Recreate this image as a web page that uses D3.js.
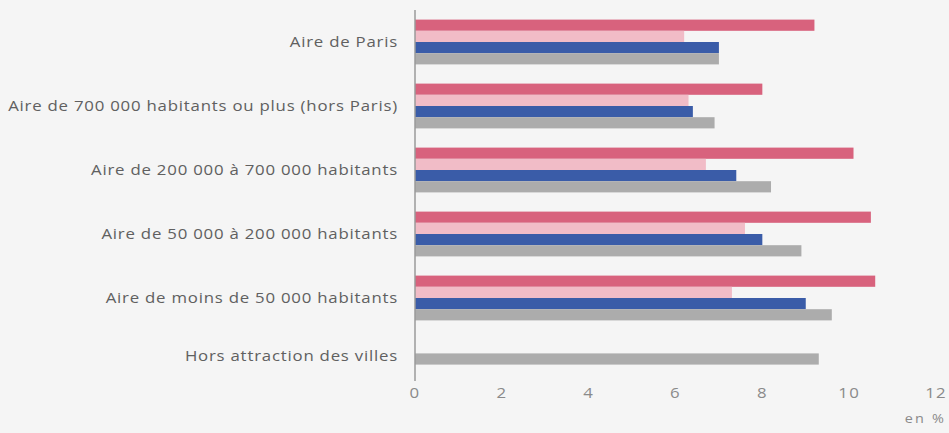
<!DOCTYPE html>
<html>
<head>
	<meta charset="utf-8">
	<style>
		body { margin: 0; background: #f5f5f5; }
	</style>
</head>
<body>
<div id="chartContainer"></div>
<script src="https://d3js.org/d3.v7.min.js"></script>
<script type="text/javascript">

// Categories (top to bottom) and values, in %
var categories = [
	"Aire de Paris",
	"Aire de 700 000 habitants ou plus (hors Paris)",
	"Aire de 200 000 à 700 000 habitants",
	"Aire de 50 000 à 200 000 habitants",
	"Aire de moins de 50 000 habitants",
	"Hors attraction des villes"
];
var seriesKeys = ["s1", "s2", "s3", "s4"];
var s1 = [9.2, 8.0, 10.1, 10.5, 10.6, null];
var s2 = [6.2, 6.3, 6.7, 7.6, 7.3, null];
var s3 = [7.0, 6.4, 7.4, 8.0, 9.0, null];
var s4 = [7.0, 6.9, 8.2, 8.9, 9.6, 9.3];
var xTicks = [0, 2, 4, 6, 8, 10, 12];
var unitLabel = "en %";

var colors = { s1: "#d8627d", s2: "#f1bcc7", s3: "#3a5ca8", s4: "#acacac" };
var seriesValues = { s1: s1, s2: s2, s3: s3, s4: s4 };

// Size and margins
var width = 949, height = 433;
var margin = {top: 10, right: 13, bottom: 39, left: 415};
var stretch = 1.2; // text in the original is drawn a bit wide

var svg = d3.select("#chartContainer").append("svg")
	.attr("width", width).attr("height", height);

svg.append("rect").attr("width", width).attr("height", height).attr("fill", "#f5f5f5");

// Scales
var x = d3.scaleLinear().domain([0, 12]).range([margin.left, 936]);
var y0 = d3.scaleBand().domain(categories).range([margin.top, 394])
	.paddingInner(0.3).paddingOuter(0.15);

// Bars: inner band built from the series that exist in each category
categories.forEach(function (cat, i) {
	var present = seriesKeys.filter(function (k) { return seriesValues[k][i] != null; });
	var inner = d3.scaleBand().domain(seriesKeys).range([0, y0.bandwidth()]);
	var h = inner.bandwidth();
	var offset = (y0.bandwidth() - h * present.length) / 2;
	if (present.length === 1) offset -= 3; // lone bar sits a little higher
	var g = svg.append("g").attr("transform", "translate(0," + y0(cat) + ")");
	g.selectAll("rect")
		.data(present)
		.enter()
		.append("rect")
			.attr("x", x(0))
			.attr("y", function (k, j) { return offset + j * h; })
			.attr("width", function (k) { return x(seriesValues[k][i]) - x(0); })
			.attr("height", h)
			.attr("fill", function (k) { return colors[k]; });
});

// Category labels
svg.selectAll(".cat")
	.data(categories)
	.enter()
	.append("text")
		.attr("class", "cat")
		.attr("transform", function (d, i) {
			var ty = y0(d) + y0.bandwidth() / 2 - (i === categories.length - 1 ? 6 : 0);
			return "translate(398," + ty + ") scale(" + stretch + ",1)";
		})
		.attr("dy", "0.35em")
		.style("text-anchor", "end")
		.style("font-family", "Open Sans")
		.style("font-size", "14px")
		.style("letter-spacing", "0.65px")
		.style("fill", "#606060")
		.text(function (d) { return d; });

// Vertical axis line
svg.append("line")
	.attr("x1", x(0)).attr("x2", x(0))
	.attr("y1", margin.top).attr("y2", 381)
	.style("stroke", "#9a9a9a").style("stroke-width", 1.5);

// X tick labels
svg.selectAll(".tick")
	.data(xTicks)
	.enter()
	.append("text")
		.attr("class", "tick")
		.attr("transform", function (d) { return "translate(" + x(d) + ",398) scale(" + stretch + ",1)"; })
		.style("text-anchor", "middle")
		.style("font-family", "Open Sans")
		.style("font-size", "14px")
		.style("letter-spacing", "1px")
		.style("fill", "#8a8a8a")
		.text(function (d) { return d; });

// Unit
svg.append("text")
	.attr("transform", "translate(946,423) scale(" + stretch + ",1)")
	.style("text-anchor", "end")
	.style("font-family", "Open Sans")
	.style("font-size", "12px")
	.style("letter-spacing", "1.8px")
	.style("fill", "#8a8a8a")
	.text(unitLabel);

</script>
</body>
</html>
